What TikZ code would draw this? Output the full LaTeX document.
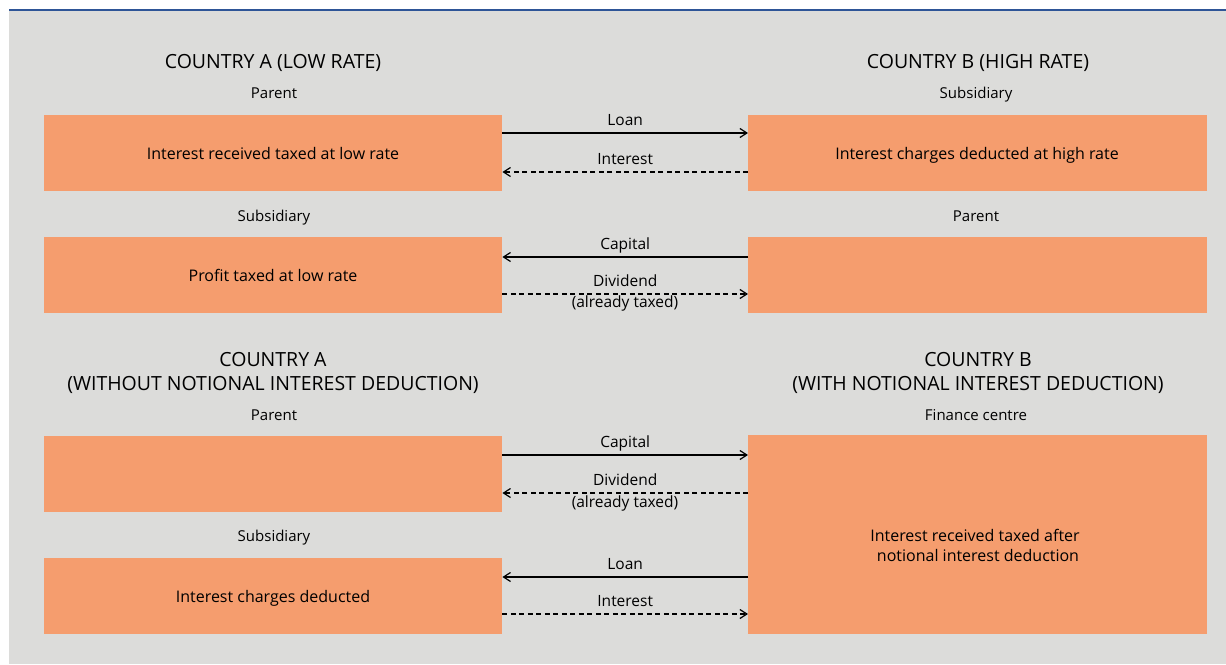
\documentclass[tikz,border=0pt]{standalone}
\usepackage{fontspec}
\setmainfont{Open Sans}
\usetikzlibrary{arrows.meta}
\definecolor{panel}{HTML}{DCDCDA}
\definecolor{boxfill}{HTML}{F59D6E}
\definecolor{rule}{HTML}{2E5597}
\tikzset{
  entity/.style={fill=boxfill, draw=none, anchor=north west, inner sep=0pt},
  boxtext/.style={font=\fontsize{16}{20}\selectfont, anchor=base, inner sep=0pt},
  heading/.style={font=\fontsize{19.5}{24}\selectfont, anchor=base, inner sep=0pt},
  role/.style={font=\fontsize{15}{18}\selectfont, anchor=base, inner sep=0pt},
  flowlabel/.style={font=\fontsize{15.5}{20}\selectfont, anchor=base, inner sep=0pt},
  flow/.style={line width=1.2pt, -{Straight Barb[length=7pt,width=9pt,line width=1.2pt]}},
  dflow/.style={flow, dash pattern=on 5pt off 3.5pt},
}
\begin{document}
\begin{tikzpicture}[x=1pt,y=-1pt]
\useasboundingbox (0,0) rectangle (1226,664);
% panel and top rule
\fill[panel] (9,10) rectangle (1226,664);
\draw[rule, line width=1.5pt] (9,10) -- (1226,10);

% headings
\node[heading] (hA) at (273,68) {COUNTRY A (LOW RATE)};
\node[heading] (hB) at (978,68) {COUNTRY B (HIGH RATE)};
\node[heading] (hC1) at (273,366) {COUNTRY A};
\node[heading] (hC2) at (273,390) {(WITHOUT NOTIONAL INTEREST DEDUCTION)};
\node[heading] (hD1) at (978,366) {COUNTRY B};
\node[heading] (hD2) at (978,390) {(WITH NOTIONAL INTEREST DEDUCTION)};

% roles
\node[role] (r1) at (274,98.5) {Parent};
\node[role] (r2) at (976,98.5) {Subsidiary};
\node[role] (r3) at (274,221.5) {Subsidiary};
\node[role] (r4) at (976,221.5) {Parent};
\node[role] (r5) at (274,420) {Parent};
\node[role] (r6) at (976,420) {Finance centre};
\node[role] (r7) at (274,541.5) {Subsidiary};

% entity boxes
\node[entity, minimum width=458pt, minimum height=76pt] (aP) at (44,115) {};
\node[entity, minimum width=459pt, minimum height=76pt] (bS) at (748,115) {};
\node[entity, minimum width=458pt, minimum height=76pt] (aS) at (44,237) {};
\node[entity, minimum width=459pt, minimum height=76pt] (bP) at (748,237) {};
\node[entity, minimum width=458pt, minimum height=76pt] (cP) at (44,436) {};
\node[entity, minimum width=458pt, minimum height=76pt] (cS) at (44,558) {};
\node[entity, minimum width=459pt, minimum height=199pt] (dF) at (748,435) {};

% box texts
\node[boxtext] (aPt) at (273,159.5) {Interest received taxed at low rate};
\node[boxtext] (bSt) at (977,159.5) {Interest charges deducted at high rate};
\node[boxtext] (aSt) at (273,281.5) {Profit taxed at low rate};
\node[boxtext] (cSt) at (273,602.5) {Interest charges deducted};
\node[boxtext] (dFt1) at (975,541.5) {Interest received taxed after};
\node[boxtext] (dFt2) at (978,561.5) {notional interest deduction};

% flows between the first pair
\draw[flow]  (aP.east |- 0,133) -- node[flowlabel, yshift=7.5pt] (l1) {Loan} (bS.west |- 0,133);
\draw[dflow] (bS.west |- 0,172) -- node[flowlabel, yshift=7.5pt] (l2) {Interest} (aP.east |- 0,172);
\draw[flow]  (bP.west |- 0,257) -- node[flowlabel, yshift=7.5pt] (l3) {Capital} (aS.east |- 0,257);
\draw[dflow] (aS.east |- 0,294) -- node[flowlabel, yshift=7.5pt] (l4) {Dividend} (bP.west |- 0,294);
\node[flowlabel] (l4b) at (625,307.5) {(already taxed)};

% flows between the second pair
\draw[flow]  (cP.east |- 0,455) -- node[flowlabel, yshift=7.5pt] (l5) {Capital} (dF.west |- 0,455);
\draw[dflow] (dF.west |- 0,493) -- node[flowlabel, yshift=7.5pt] (l6) {Dividend} (cP.east |- 0,493);
\node[flowlabel] (l6b) at (625,507) {(already taxed)};
\draw[flow]  (dF.west |- 0,577) -- node[flowlabel, yshift=7.5pt] (l7) {Loan} (cS.east |- 0,577);
\draw[dflow] (cS.east |- 0,614) -- node[flowlabel, yshift=7.5pt] (l8) {Interest} (dF.west |- 0,614);
\end{tikzpicture}
\end{document}
